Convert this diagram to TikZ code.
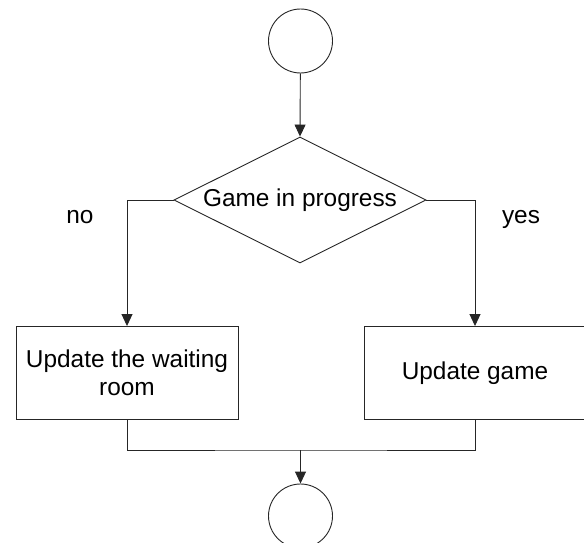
\documentclass[tikz,border=0pt]{standalone}
\usepackage{fontspec}
\setmainfont{Liberation Sans}
\usetikzlibrary{shapes.geometric,arrows.meta}

\tikzset{
  flow/.style={line width=0.9pt, draw=black!85},
  arr/.style={flow, -{Triangle[length=12pt,width=11pt]}},
  term/.style={circle, draw=black!85, line width=0.9pt, minimum size=64pt, inner sep=0pt},
  decide/.style={diamond, draw=black!85, line width=0.9pt, aspect=2, inner sep=0pt,
                 minimum width=252pt, minimum height=126pt},
  proc/.style={rectangle, draw=black!85, line width=0.9pt, minimum width=222pt,
               minimum height=93pt, align=center, inner sep=0pt},
  lbl/.style={anchor=base, inner sep=0pt},
  txt/.style={font=\fontsize{24.4}{28.3}\selectfont}
}

\begin{document}
\begin{tikzpicture}[x=1pt, y=-1pt, txt]
  \useasboundingbox (0,0) rectangle (584,543);

  % terminals
  \node[term] (start) at (300.5,41) {};
  \node[term] (stop)  at (300.5,516) {};

  % decision
  \node[decide] (check) at (300,200) {Game in progress};

  % process boxes
  \node[proc] (wait) at (127,373) {Update the waiting\\room};
  \node[proc] (game) at (475,373) {Update game};

  % branch labels
  \node[lbl] (no)  at (80,223.3)  {no};
  \node[lbl] (yes) at (521,223.3) {yes};

  % connectors
  \coordinate (merge) at (300.5,450);
  \draw[arr] (start) -- (check.north);
  \draw[arr] (check.west) -| (wait.north);
  \draw[arr] (check.east) -| (game.north);
  \draw[flow] (wait.south) |- (merge) -| (game.south);
  \draw[arr] (merge) -- (stop.north);
\end{tikzpicture}
\end{document}
